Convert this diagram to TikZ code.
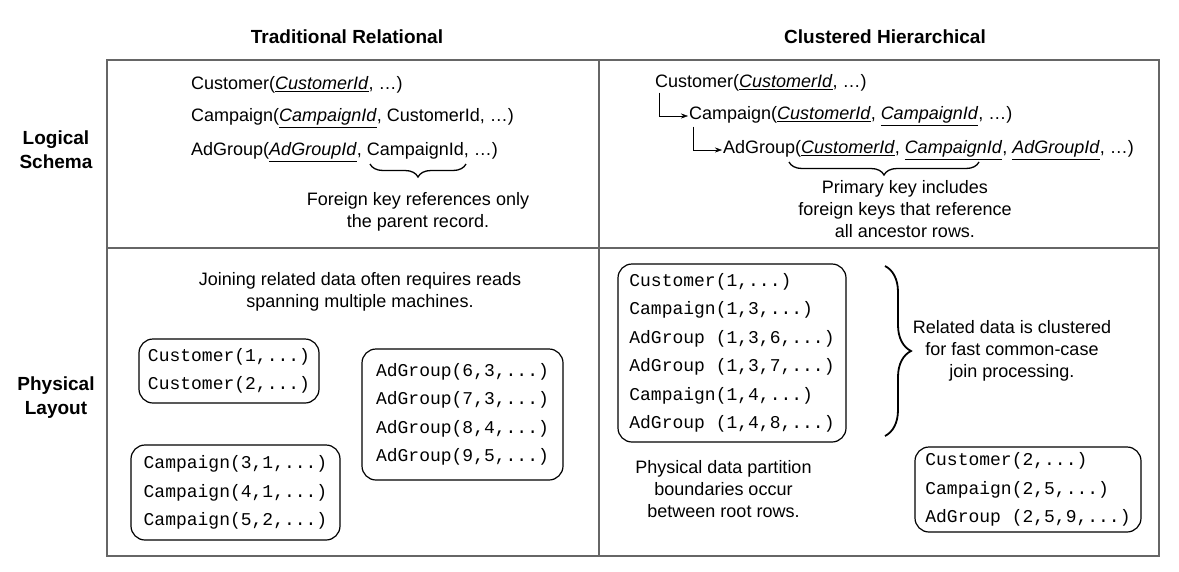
\documentclass[tikz,border=0pt]{standalone}
\usepackage{fontspec}
\setmainfont{Liberation Sans}
\setmonofont{Liberation Mono}
\usepackage{tikz}
\usetikzlibrary{arrows.meta,positioning,decorations.pathreplacing}

\newcommand{\pk}[1]{\underline{\textit{#1}}}

\begin{document}
\begin{tikzpicture}[x=1pt,y=-1pt,
        >={Stealth[length=7pt,width=5pt]},
        txt/.style={font=\fontsize{18}{22}\selectfont,inner sep=1pt,anchor=west},
        note/.style={font=\fontsize{18}{22}\selectfont,align=center},
        head/.style={font=\fontsize{19}{24}\selectfont\bfseries,align=center},
        rows/.style={draw=black,rounded corners=14pt,line width=1.2pt,align=left,
            font=\ttfamily\fontsize{18}{28.5}\selectfont},
        frame/.style={draw=black!60,line width=1.6pt},
        brc/.style={decorate,decoration={brace,amplitude=13pt},line width=1.3pt}]
    \useasboundingbox (0,0) rectangle (1179,571);

    % grid
    \draw[frame] (107,60) rectangle (1159,556);
    \draw[frame] (599,60) -- (599,556);
    \draw[frame] (107,248) -- (1159,248);

    % headings
    \node (h1) at (347,37) [head] {Traditional Relational};
    \node (h2) at (885,37) [head] {Clustered Hierarchical};
    \node (h3) at (56,150) [head] {Logical\\Schema};
    \node (h4) at (56,398) [head] {Physical\\Layout};

    % traditional schema
    \node (lcust) at (190,85) [txt] {Customer(\pk{CustomerId}, …)};
    \node (lcamp) at (190,118) [txt] {Campaign(\pk{CampaignId}, CustomerId, …)};
    \node (ladg) at (190,152) [txt] {AdGroup(\pk{AdGroupId}, CampaignId, …)};
    \coordinate (lb1) at (370,164);
    \coordinate (lb2) at (466,164);
    \draw[brc] (lb2) -- (lb1);
    \node (lnote) at (418,212) [note] {Foreign key references only\\the parent record.};

    % hierarchical schema
    \node (rcust) at (654,83) [txt] {Customer(\pk{CustomerId}, …)};
    \node (rcamp) at (688,116) [txt] {Campaign(\pk{CustomerId}, \pk{CampaignId}, …)};
    \node (radg) at (722,150) [txt] {AdGroup(\pk{CustomerId}, \pk{CampaignId}, \pk{AdGroupId}, …)};
    \draw[->] ([xshift=5pt]rcust.south west) |- (rcamp.west);
    \draw[->] ([xshift=5pt]rcamp.south west) |- (radg.west);
    \coordinate (rb1) at (789,162);
    \coordinate (rb2) at (979,162);
    \draw[brc] (rb2) -- (rb1);
    \node (rnote) at (905,209) [note] {Primary key includes\\foreign keys that reference\\all ancestor rows.};

    % traditional layout
    \node (lphys) at (360,292) [note] {Joining related data often requires reads\\spanning multiple machines.};
    \node (custbox) at (229,371) [rows,minimum width=180,minimum height=64] {Customer(1,...)\\Customer(2,...)};
    \node (adgbox) at (462.5,414.5) [rows,minimum width=201,minimum height=131] {AdGroup(6,3,...)\\AdGroup(7,3,...)\\AdGroup(8,4,...)\\AdGroup(9,5,...)};
    \node (campbox) at (235.5,492.5) [rows,minimum width=209,minimum height=95] {Campaign(3,1,...)\\Campaign(4,1,...)\\Campaign(5,2,...)};

    % hierarchical layout
    \node (root1) at (732,353) [rows,minimum width=228,minimum height=178] {Customer(1,...)\\Campaign(1,3,...)\\AdGroup (1,3,6,...)\\AdGroup (1,3,7,...)\\Campaign(1,4,...)\\AdGroup (1,4,8,...)};
    \node (root2) at (1028,489.5) [rows,minimum width=226,minimum height=85] {Customer(2,...)\\Campaign(2,5,...)\\AdGroup (2,5,9,...)};
    \coordinate (cb1) at (885,266);
    \coordinate (cb2) at (885,436);
    \draw[brc,decoration={amplitude=26pt},line width=1.8pt] (cb1) -- (cb2);
    \node (cnote) at (1012,351) [note] {Related data is clustered\\for fast common-case\\join processing.};
    \node (pnote) at (723.5,489.5) [note] {Physical data partition\\boundaries occur\\between root rows.};
\end{tikzpicture}
\end{document}
